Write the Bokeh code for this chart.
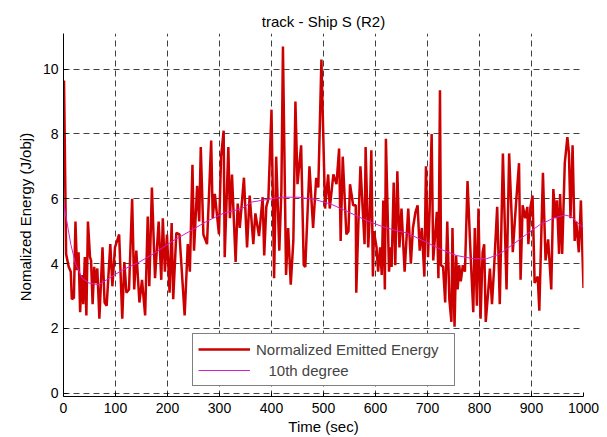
from bokeh.plotting import figure
from bokeh.models import Range1d, FixedTicker, Legend, LegendItem
from bokeh.embed import file_html
from bokeh.resources import INLINE

# ---- data ----
time_sec = [1, 5, 10, 14, 16, 20, 23, 26, 29, 32, 35, 38, 41, 44, 47, 51, 53, 56, 59, 62,
            65, 69, 75, 79, 83, 90, 94, 99, 107, 113, 117, 121, 126, 132, 136, 140, 146, 151, 157, 162,
            165, 170, 176, 183, 188, 191, 195, 199, 204, 208, 211, 217, 223, 233, 239, 243, 248, 251, 257, 261,
            264, 269, 276, 284, 287, 291, 299, 303, 308, 310, 317, 320, 324, 331, 335, 339, 347, 353, 358, 365,
            369, 376, 383, 386, 390, 394, 400, 405, 409, 415, 419, 422, 428, 432, 437, 442, 446, 450, 457, 462,
            465, 473, 480, 486, 490, 496, 503, 509, 512, 519, 525, 530, 533, 537, 544, 548, 551, 557, 562, 563,
            567, 571, 579, 581, 586, 589, 592, 595, 597, 602, 605, 609, 612, 615, 618, 620, 626, 629, 631, 635,
            638, 642, 646, 650, 656, 663, 668, 672, 677, 681, 685, 689, 694, 697, 701, 704, 708, 711, 718, 721,
            724, 726, 730, 734, 738, 742, 746, 748, 752, 755, 758, 761, 764, 768, 772, 777, 782, 788, 791, 795,
            798, 802, 806, 809, 812, 817, 820, 824, 828, 834, 839, 845, 852, 857, 862, 864, 870, 876, 879, 883,
            888, 892, 894, 898, 902, 906, 912, 915, 922, 927, 932, 938, 942, 946, 949, 953, 955, 959, 964, 969,
            972, 975, 979, 983, 986, 991, 995, 997, 1000]
energy = [9.65, 4.3, 3.9, 3.75, 2.9, 2.95, 5.3, 3.8, 4.35, 2.5, 3.65, 2.75, 4.2, 2.4, 5.3, 4.2, 4.1, 2.75, 3.9, 3.4,
          3.85, 2.3, 4.5, 2.8, 2.7, 4.6, 3.3, 4.5, 4.9, 2.3, 4.05, 3.1, 3.2, 6.0, 3.2, 4.4, 2.8, 3.5, 2.4, 5.45,
          3.3, 6.35, 3.55, 5.3, 3.5, 5.4, 3.75, 4.9, 3.1, 5.25, 2.9, 4.95, 4.9, 2.4, 4.6, 3.75, 7.05, 4.4, 6.4, 5.3,
          7.6, 4.9, 4.6, 7.8, 5.4, 6.15, 4.9, 7.3, 8.1, 4.2, 7.6, 5.4, 6.75, 4.05, 5.85, 5.1, 6.65, 4.5, 6.1, 4.6,
          5.55, 4.85, 6.05, 4.25, 5.75, 6.0, 8.75, 3.55, 7.3, 4.4, 6.25, 10.7, 3.65, 5.1, 3.35, 4.7, 9.0, 6.45, 7.65, 3.95,
          3.9, 7.0, 5.1, 6.65, 6.35, 10.3, 5.7, 6.75, 5.7, 6.75, 6.45, 7.55, 4.7, 7.3, 4.9, 5.0, 6.45, 5.8, 5.8, 3.1,
          5.2, 7.0, 4.6, 7.6, 4.5, 5.5, 7.5, 3.6, 5.0, 4.5, 3.75, 4.5, 3.65, 5.95, 3.2, 7.85, 3.75, 4.5, 3.9, 6.5,
          3.95, 6.85, 4.5, 5.7, 3.75, 5.7, 4.0, 5.1, 5.6, 5.8, 4.4, 5.1, 3.6, 7.0, 4.2, 5.6, 8.0, 4.1, 5.6, 3.55,
          9.35, 3.95, 3.9, 2.8, 5.3, 2.9, 2.2, 5.1, 2.05, 4.25, 3.2, 3.95, 3.45, 3.95, 3.75, 6.55, 4.6, 2.5, 5.1, 2.7,
          5.7, 2.3, 4.35, 4.6, 2.2, 3.2, 3.85, 2.75, 3.85, 5.75, 2.75, 7.4, 3.2, 7.4, 5.4, 4.35, 5.8, 7.1, 3.5, 5.8,
          5.4, 5.75, 4.6, 5.75, 6.1, 3.4, 3.6, 2.55, 6.8, 4.1, 4.75, 3.2, 6.3, 5.4, 5.95, 4.3, 6.15, 4.3, 7.1, 7.9,
          7.4, 5.4, 7.65, 4.7, 5.3, 4.35, 5.95, 4.8, 3.25]

fit_time = [0, 14, 23, 36, 49, 68, 88, 113, 146, 178, 210, 243, 275, 307, 343, 362, 400, 419, 451, 483,
            515, 547, 580, 612, 644, 660, 699, 724, 756, 788, 814, 839, 865, 890, 916, 942, 964, 977, 986, 1000]
fit_energy = [5.9, 4.6, 4.0, 3.55, 3.4, 3.35, 3.55, 3.8, 4.05, 4.35, 4.7, 5.0, 5.3, 5.55, 5.7, 5.9, 6.0, 6.05, 6.05, 5.98,
              5.83, 5.6, 5.35, 5.15, 5.0, 4.95, 4.65, 4.45, 4.25, 4.15, 4.15, 4.3, 4.6, 4.9, 5.2, 5.4, 5.5, 5.45, 5.3, 5.1]

x_ticks = [0, 100, 200, 300, 400, 500, 600, 700, 800, 900, 1000]
y_ticks = [0, 2, 4, 6, 8, 10]

title_text = "track - Ship S (R2)"
x_label = "Time (sec)"
y_label = "Nomalized Energy  (J/obj)"
series_label = "Normalized Emitted Energy"
fit_label = "\u00a0\u00a0\u00a010th degree"

FONT = "Liberation Sans"

p = figure(width=599, height=437, output_backend="svg", toolbar_location=None,
           x_range=Range1d(0, 1000), y_range=Range1d(-0.1, 11.1),
           min_border_left=63, min_border_right=16, min_border_top=33, min_border_bottom=41)
p.outline_line_color = None
p.background_fill_color = "white"
p.border_fill_color = "white"

p.title.text = title_text
p.title.align = "center"
p.title.text_font = FONT
p.title.text_font_size = "15px"
p.title.text_font_style = "normal"
p.title.text_color = "black"
p.title.standoff = 7

r_line = p.line(time_sec, energy, line_color="#CC0000", line_width=2.5)
r_fit = p.line(fit_time, fit_energy, line_color="#CC22CC", line_width=1)

for ax in (p.xaxis[0], p.yaxis[0]):
    ax.axis_line_color = "black"
    ax.axis_line_width = 1
    ax.major_tick_in = 4
    ax.major_tick_out = 0
    ax.minor_tick_line_color = None
    ax.major_tick_line_color = "black"
    ax.major_label_text_font = FONT
    ax.major_label_text_font_size = "14px"
    ax.major_label_text_color = "black"
    ax.axis_label_text_font = FONT
    ax.axis_label_text_font_size = "15px"
    ax.axis_label_text_font_style = "normal"
    ax.axis_label_text_color = "black"

p.xaxis.ticker = FixedTicker(ticks=x_ticks)
p.yaxis.ticker = FixedTicker(ticks=y_ticks)
p.xaxis.axis_label = x_label
p.yaxis.axis_label = y_label
p.xaxis.major_label_standoff = 6
p.xaxis.axis_label_standoff = 2
p.yaxis.major_label_standoff = 5
p.yaxis.axis_label_standoff = 6

for g in (p.xgrid[0], p.ygrid[0]):
    g.grid_line_color = "black"
    g.grid_line_alpha = 0.75
    g.grid_line_dash = "6 4"
    g.grid_line_width = 1

legend = Legend(items=[LegendItem(label=series_label, renderers=[r_line]),
                       LegendItem(label=fit_label, renderers=[r_fit])],
                location=(129, 10))
legend.border_line_color = "black"
legend.border_line_width = 1
legend.background_fill_color = "white"
legend.background_fill_alpha = 1
legend.label_text_font = FONT
legend.label_text_font_size = "15px"
legend.glyph_width = 52
legend.glyph_height = 20
legend.label_height = 20
legend.label_width = 193
legend.label_standoff = 6
legend.spacing = 1
legend.padding = 5
legend.margin = 0
p.add_layout(legend, "center")

open("out.html", "w").write(file_html(p, INLINE))
